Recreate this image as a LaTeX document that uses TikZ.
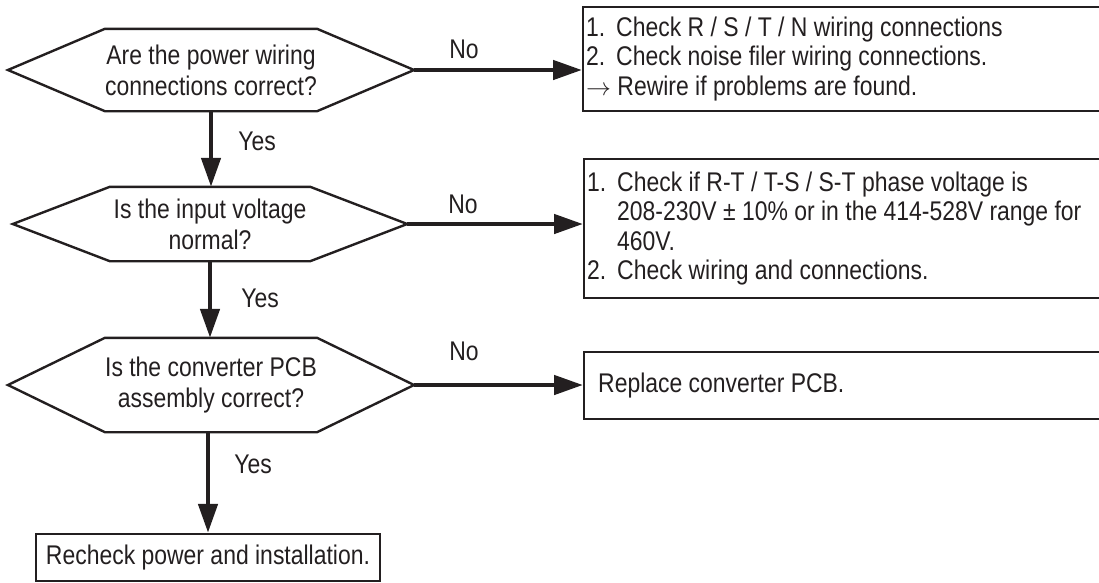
\documentclass[tikz,border=0pt]{standalone}
\usepackage{fontspec}
\setmainfont[FakeStretch=0.85]{Liberation Sans}
\usetikzlibrary{arrows.meta}
\definecolor{ink}{RGB}{35,31,32}

\newcommand{\qfont}{\fontsize{27}{31}\selectfont}
\newcommand{\bxfont}{\fontsize{27}{29.5}\selectfont}
\newcommand{\itm}[1]{\makebox[30pt][l]{#1}}
%hexagon round a question node
\newcommand{\hexq}[1]{%
  \draw[outline] (#1.north west) -- (#1.north east) -- ([xshift=97pt]#1.east) coordinate (#1-r)
    -- (#1.south east) -- (#1.south west) -- ([xshift=-97pt]#1.west) coordinate (#1-l) -- cycle;}

\begin{document}
\begin{tikzpicture}[x=1pt,y=-1pt,
  outline/.style={draw=ink, line width=2.4pt},
  quest/.style={inner sep=0pt, align=flush center, font=\qfont, text=ink},
  fixbox/.style={outline, anchor=west, inner xsep=3pt, inner ysep=0pt, align=flush left, font=\bxfont, text=ink},
  flow/.style={draw=ink, line width=4.6pt, -{Triangle[length=29pt,width=19pt]}},
  lbl/.style={anchor=base, inner sep=0pt, font=\qfont, text=ink}]

\useasboundingbox (0,0) rectangle (1099,582);

%questions:
\node[quest, minimum width=202pt, minimum height=82pt] (q1) at (211,70) {Are the power wiring\\connections correct?};
\node[quest, minimum width=200pt, minimum height=74pt] (q2) at (210,224) {Is the input voltage\\normal?};
\node[quest, minimum width=202pt, minimum height=94pt] (q3) at (211,385) {Is the converter PCB\\assembly correct?};
\hexq{q1}
\hexq{q2}
\hexq{q3}

%fixes:
\node[fixbox, text width=530pt, minimum height=104pt] (fix1) at (582,59)
  {\itm{1.}Check R / S / T / N wiring connections\\
   \itm{2.}Check noise filer wiring connections.\\
   $\rightarrow$ Rewire if problems are found.};
\node[fixbox, text width=530pt, minimum height=139pt] (fix2) at (583,228.5)
  {\itm{1.}Check if R-T / T-S / S-T phase voltage is\\
   \itm{}208-230V ± 10\% or in the 414-528V range for\\
   \itm{}460V.\\
   \itm{2.}Check wiring and connections.};
\node[fixbox, inner xsep=14pt, text width=500pt, minimum height=67pt] (fix3) at (583,385.5)
  {Replace converter PCB.};
\node[outline, inner sep=0pt, minimum width=344pt, minimum height=47pt, font=\qfont, text=ink] (fin) at (208,557.5)
  {Recheck power and installation.};

%connectors:
\draw[flow] (q1-r) -- (q1-r -| fix1.west);
\draw[flow] (q2-r) -- (q2-r -| fix2.west);
\draw[flow] (q3-r) -- (q3-r -| fix3.west);
\draw[flow] (q1.south) -- (q1.south |- q2.north);
\draw[flow] (q2.south) -- (q2.south |- q3.north);
\draw[flow] (fin.north |- q3.south) -- (fin.north);

%labels:
\node[lbl] (no1) at (464,58) {No};
\node[lbl] (no2) at (463,213) {No};
\node[lbl] (no3) at (464,360) {No};
\node[lbl] (yes1) at (257,150) {Yes};
\node[lbl] (yes2) at (260,307) {Yes};
\node[lbl] (yes3) at (253,473) {Yes};

\end{tikzpicture}
\end{document}
